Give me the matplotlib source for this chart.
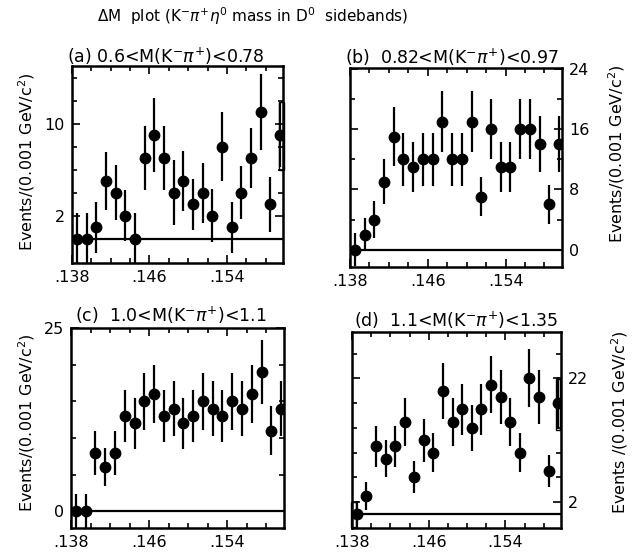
import numpy as np
import matplotlib
matplotlib.use("Agg")
import matplotlib.pyplot as plt
from matplotlib.ticker import FixedLocator, MultipleLocator, FixedFormatter
from matplotlib.patches import Rectangle

# ------------------------------------------------------------
# data (bin centres 0.1385 ... 0.1595)
# ------------------------------------------------------------
dm = [0.1385, 0.1395, 0.1405, 0.1415, 0.1425, 0.1435, 0.1445, 0.1455,
      0.1465, 0.1475, 0.1485, 0.1495, 0.1505, 0.1515, 0.1525, 0.1535,
      0.1545, 0.1555, 0.1565, 0.1575, 0.1585, 0.1595]

events_a = [0, 0, 1, 5, 4, 2, 0, 7, 9, 7, 4, 5, 3, 4, 2, 8, 1, 4, 7, 11, 3, 9]
err_a    = [2.2, 2.2, 2.2, 2.5, 2.4, 2.2, 2.2, 2.8, 3.2, 2.8, 2.8, 2.6,
            2.2, 2.6, 2.3, 3.0, 2.2, 2.3, 2.6, 3.3, 2.4, 2.8]

events_b = [0, 2, 4, 9, 15, 12, 11, 12, 12, 17, 12, 12, 17, 7, 16, 11,
            11, 16, 16, 14, 6, 14]
err_b    = [2.2, 2.2, 2.4, 3.0, 3.9, 3.5, 3.3, 3.5, 3.5, 4.1, 3.5, 3.5,
            4.1, 2.6, 4.0, 3.3, 3.3, 4.0, 4.0, 3.7, 2.6, 3.7]

events_c = [0, 0, 8, 6, 8, 13, 12, 15, 16, 13, 14, 12, 13, 15, 14, 13,
            15, 14, 16, 19, 11, 14]
err_c    = [2.3, 2.3, 3.0, 2.6, 3.0, 3.6, 3.5, 3.9, 4.0, 3.6, 3.7, 3.5,
            3.6, 3.9, 3.7, 3.6, 3.9, 3.7, 4.0, 4.4, 3.3, 3.7]

events_d = [0, 3, 11, 9, 11, 15, 6, 12, 10, 20, 15, 17, 14, 17, 21, 19,
            15, 10, 22, 19, 7, 18]
err_d    = [2.2, 2.3, 3.3, 3.0, 3.3, 3.9, 2.6, 3.5, 3.2, 4.5, 3.9, 4.1,
            3.7, 4.1, 4.6, 4.4, 3.9, 3.2, 4.7, 4.4, 2.6, 4.2]

# open boxes drawn in the original (x0, x1, y0, y1)
boxes_a = [(0.15942, 0.15990, 6.0, 11.9)]
boxes_d = [(0.15924, 0.15970, 13.7, 21.9), (0.13790, 0.13840, -2.0, 2.0)]

titles = ["(a) 0.6<M(K$^{-}\\pi^{+}$)<0.78",
          "(b)  0.82<M(K$^{-}\\pi^{+}$)<0.97",
          "(c)  1.0<M(K$^{-}\\pi^{+}$)<1.1",
          "(d)  1.1<M(K$^{-}\\pi^{+}$)<1.35"]

xticks = [0.138, 0.146, 0.154]
xlabels = [".138", ".146", ".154"]

W, H = 637, 558
plt.rcParams["font.family"] = "DejaVu Sans"
plt.rcParams["mathtext.fontset"] = "dejavusans"

fig = plt.figure(figsize=(W / 100, H / 100), dpi=100)


def px_axes(left, right, top, bottom):
    return fig.add_axes([left / W, 1 - bottom / H, (right - left) / W,
                         (bottom - top) / H])


def draw_panel(ax, y, err, ylim, major, minor_step, minor_start, right,
               boxes=()):
    ax.set_xlim(0.138, 0.1598)
    ax.set_ylim(*ylim)
    ax.axhline(0, color="black", lw=1.6, zorder=1)
    ax.errorbar(dm, y, yerr=err, fmt="o", color="black", ms=7.5,
                elinewidth=1.6, capsize=0, zorder=3, clip_on=True)
    for x0, x1, y0, y1 in boxes:
        ax.add_patch(Rectangle((x0, y0), x1 - x0, y1 - y0, fill=False,
                               lw=1.0, ec="black", clip_on=False, zorder=4))

    ax.xaxis.set_major_locator(FixedLocator(xticks))
    ax.xaxis.set_major_formatter(FixedFormatter(xlabels))
    ax.xaxis.set_minor_locator(MultipleLocator(0.002))

    ax.yaxis.set_major_locator(FixedLocator(major))
    ax.yaxis.set_major_formatter(FixedFormatter([str(m) for m in major]))
    ax.yaxis.set_minor_locator(
        FixedLocator(np.arange(minor_start, ylim[1], minor_step)))

    ax.tick_params(which="both", direction="in", top=True, right=True,
                   width=1.2, labelsize=11.5, pad=5)
    ax.tick_params(which="major", length=6)
    ax.tick_params(which="minor", length=3.5)
    if right:
        ax.tick_params(axis="y", labelleft=False, labelright=True)
    for s in ax.spines.values():
        s.set_linewidth(1.8)


ax_a = px_axes(72, 283, 66, 263)
ax_b = px_axes(350, 562, 68, 267)
ax_c = px_axes(71, 284, 328, 528)
ax_d = px_axes(352, 561, 332, 528)

draw_panel(ax_a, events_a, err_a, (-2.1, 15), [2, 10], 2, 0, False, boxes_a)
draw_panel(ax_b, events_b, err_b, (-2.3, 24.1), [0, 8, 16, 24], 4, 0, True)
draw_panel(ax_c, events_c, err_c, (-2.3, 25), [0, 25], 5, 0, False)
draw_panel(ax_d, events_d, err_d, (-2.2, 29.5), [2, 22], 4, 2, True, boxes_d)


def ftext(x, y, s, **kw):
    fig.text(x / W, 1 - y / H, s, **kw)


ftext(253, 16, "$\\Delta$M  plot (K$^{-}\\pi^{+}\\eta^{0}$ mass in D$^{0}$  sidebands)",
      ha="center", va="center", fontsize=11)

ftext(67, 56, titles[0], ha="left", va="center", fontsize=12.5)
ftext(345, 57, titles[1], ha="left", va="center", fontsize=12.5)
ftext(75, 315, titles[2], ha="left", va="center", fontsize=12.5)
ftext(354, 320, titles[3], ha="left", va="center", fontsize=12.5)

ylab = "Events/(0.001 GeV/c$^{2}$)"
ftext(27, 162, ylab, rotation=90, ha="center", va="center", fontsize=11.5)
ftext(617, 154, ylab, rotation=90, ha="center", va="center", fontsize=11.5)
ftext(27, 423, ylab, rotation=90, ha="center", va="center", fontsize=11.5)
ftext(620, 422, "Events /(0.001 GeV/c$^{2}$)", rotation=90, ha="center",
      va="center", fontsize=11.5)

fig.savefig("out.png", dpi=100, facecolor="white")
